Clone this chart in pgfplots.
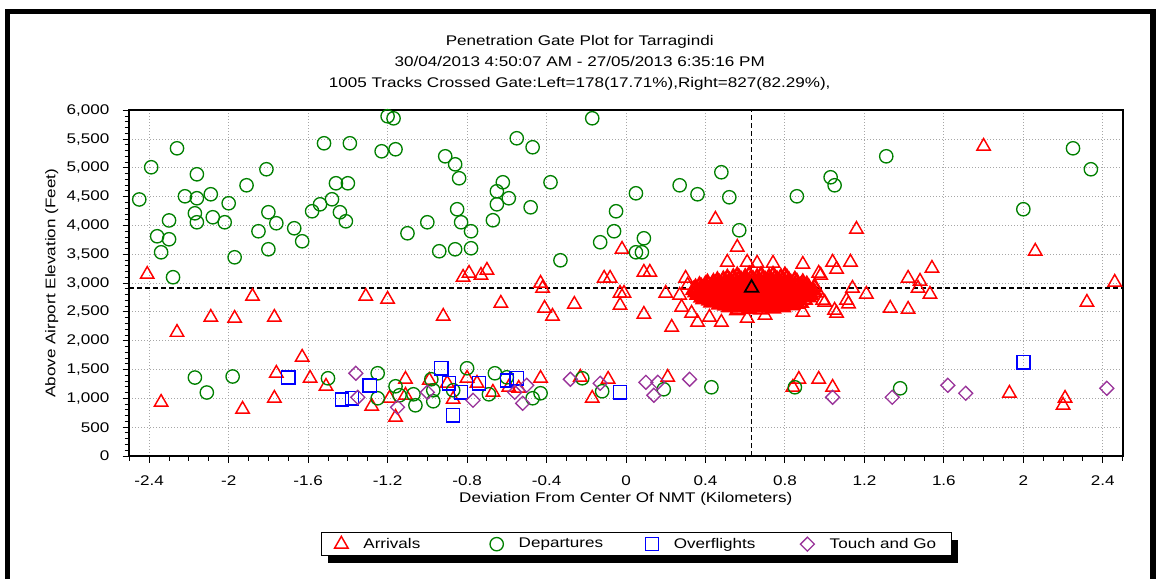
\documentclass[border=0pt]{standalone}
\usepackage{fontspec}
\setmainfont[FakeStretch=1.22]{Liberation Sans}
\usepackage{pgfplots}
\pgfplotsset{compat=1.18}
\usetikzlibrary{shadows}

\definecolor{arrred}{RGB}{255,0,0}
\definecolor{depgreen}{RGB}{0,128,0}
\definecolor{ovblue}{RGB}{0,0,255}
\definecolor{tgpurple}{RGB}{153,51,153}

% arrivals outside the dense cluster
\pgfplotstableread{
x y
-2.41 3153
-2.26 2146
-2.09 2407
-1.97 2390
-1.88 2772
-1.77 2407
-1.31 2772
-1.20 2720
-0.92 2425
-0.82 3102
-0.79 3171
-0.73 3137
-0.70 3224
-0.63 2651
-0.43 2998
-0.42 2911
-0.41 2564
-0.37 2425
-0.26 2633
-0.11 3085
-0.08 3085
-0.02 3588
-0.03 2824
-0.01 2824
-0.03 2616
0.09 3189
0.12 3189
0.09 2460
0.20 2824
0.23 2234
0.30 3085
0.45 4109
0.56 3623
0.51 3363
0.61 3363
0.66 3345
0.74 3345
0.36 2321
0.42 2408
0.48 2321
0.61 2390
0.70 2442
0.31 2963
0.27 2790
0.28 2582
0.33 2477
0.89 2495
0.89 3328
0.97 3172
0.98 3137
0.99 2703
1.00 2668
1.04 3363
1.05 2530
1.06 3241
1.06 2477
1.11 2703
1.12 2640
1.13 3363
1.14 2911
1.16 3935
1.21 2807
1.33 2564
1.42 3085
1.42 2547
1.47 2911
1.48 3033
1.53 2807
1.54 3258
1.80 5376
2.06 3554
2.32 2668
2.46 3015
-2.34 932
-1.93 811
-1.77 1002
-1.76 1436
-1.63 1714
-1.59 1349
-1.51 1210
-1.28 863
-1.19 1002
-1.16 672
-1.11 1332
-1.11 1054
-0.99 1314
-0.90 1262
-0.87 984
-0.80 1349
-0.75 1262
-0.67 1106
-0.59 1193
-0.54 1175
-0.43 1349
-0.23 1366
-0.17 1002
-0.09 1332
0.21 1366
0.84 1193
0.87 1332
0.97 1332
1.04 1193
1.93 1089
2.20 880
2.21 1002
}\arrivals

% arrivals in the dense cluster around the gate mean
\pgfplotstableread{
x y
0.56 2530
0.62 2550
0.68 2540
0.74 2560
0.52 2580
0.55 2595
0.58 2575
0.61 2590
0.64 2580
0.67 2595
0.70 2585
0.73 2575
0.76 2590
0.79 2580
0.47 2630
0.50 2610
0.53 2640
0.56 2620
0.59 2635
0.62 2615
0.65 2640
0.68 2625
0.71 2610
0.74 2640
0.77 2625
0.80 2630
0.83 2615
0.86 2640
0.43 2665
0.46 2680
0.49 2660
0.52 2675
0.55 2665
0.58 2680
0.61 2660
0.64 2675
0.67 2665
0.70 2680
0.73 2660
0.76 2675
0.79 2665
0.82 2680
0.85 2670
0.88 2660
0.39 2720
0.42 2700
0.45 2715
0.48 2705
0.51 2725
0.54 2700
0.57 2715
0.60 2705
0.63 2720
0.66 2700
0.69 2715
0.72 2710
0.75 2725
0.78 2700
0.81 2715
0.84 2705
0.87 2720
0.90 2710
0.38 2750
0.41 2765
0.44 2745
0.47 2760
0.50 2750
0.53 2765
0.56 2745
0.59 2760
0.62 2750
0.65 2765
0.68 2745
0.71 2760
0.74 2750
0.77 2765
0.80 2745
0.83 2760
0.86 2750
0.89 2765
0.92 2755
0.36 2800
0.39 2785
0.42 2805
0.45 2790
0.48 2800
0.51 2785
0.54 2810
0.57 2795
0.60 2785
0.63 2800
0.66 2790
0.69 2805
0.72 2795
0.75 2785
0.78 2800
0.81 2790
0.84 2805
0.87 2795
0.90 2785
0.93 2800
0.35 2840
0.38 2830
0.41 2850
0.44 2835
0.47 2845
0.50 2830
0.53 2850
0.56 2840
0.59 2830
0.62 2845
0.65 2835
0.68 2850
0.71 2840
0.74 2830
0.77 2845
0.80 2835
0.83 2850
0.86 2840
0.89 2830
0.92 2845
0.95 2835
0.34 2880
0.37 2870
0.40 2890
0.43 2875
0.46 2885
0.49 2870
0.52 2890
0.55 2880
0.58 2870
0.61 2885
0.64 2875
0.67 2890
0.70 2880
0.73 2870
0.76 2885
0.79 2875
0.82 2890
0.85 2880
0.88 2870
0.91 2885
0.94 2875
0.35 2920
0.38 2930
0.41 2915
0.44 2930
0.47 2920
0.50 2935
0.53 2915
0.56 2925
0.59 2935
0.62 2920
0.65 2930
0.68 2915
0.71 2925
0.74 2935
0.77 2920
0.80 2930
0.83 2915
0.86 2925
0.89 2935
0.92 2920
0.95 2930
0.37 2960
0.40 2975
0.43 2955
0.46 2970
0.49 2960
0.52 2975
0.55 2965
0.58 2955
0.61 2970
0.64 2960
0.67 2975
0.70 2965
0.73 2955
0.76 2970
0.79 2960
0.82 2975
0.85 2965
0.88 2955
0.91 2970
0.41 3005
0.44 3015
0.47 3000
0.50 3020
0.53 3005
0.56 3015
0.59 3000
0.62 3020
0.65 3005
0.68 3015
0.71 3000
0.74 3020
0.77 3005
0.80 3015
0.83 3000
0.86 3020
0.89 3010
0.46 3045
0.49 3060
0.52 3040
0.55 3055
0.58 3050
0.61 3040
0.64 3060
0.67 3045
0.70 3055
0.73 3040
0.76 3060
0.79 3050
0.82 3045
0.85 3055
0.51 3090
0.54 3100
0.57 3085
0.60 3100
0.63 3090
0.66 3100
0.69 3085
0.72 3100
0.75 3090
0.78 3100
0.81 3090
0.56 3130
0.62 3145
0.68 3135
0.74 3140
0.80 3130
}\cluster

\pgfplotstableread{
x y
-2.45 4453
-2.39 5012
-2.26 5341
-2.36 3814
-2.30 4089
-2.34 3536
-2.30 3762
-2.28 3103
-2.22 4508
-2.16 4890
-2.16 4474
-2.17 4213
-2.16 4057
-2.09 4543
-2.08 4144
-2.02 4057
-2.00 4387
-1.97 3449
-1.91 4699
-1.81 4977
-1.80 4231
-1.85 3901
-1.76 4040
-1.80 3588
-1.67 3953
-1.63 3727
-1.58 4248
-1.54 4369
-1.52 5428
-1.48 4456
-1.46 4734
-1.44 4231
-1.41 4074
-1.40 4734
-1.39 5428
-1.23 5289
-1.20 5897
-1.17 5861
-1.16 5324
-1.10 3866
-1.00 4057
-0.94 3554
-0.91 5202
-0.86 5063
-0.84 4821
-0.85 4283
-0.83 4057
-0.86 3588
-0.78 3901
-0.78 3606
-0.65 4595
-0.62 4751
-0.59 4474
-0.65 4369
-0.67 4092
-0.48 4317
-0.55 5515
-0.47 5359
-0.38 4751
-0.33 3397
-0.17 5862
-0.13 3710
-0.06 3901
-0.05 4248
0.05 4560
0.09 3779
0.05 3536
0.08 3536
0.27 4699
0.36 4543
0.48 4925
0.52 4491
0.57 3918
0.86 4508
1.03 4838
1.05 4699
1.31 5202
2.00 4283
2.25 5341
2.34 4977
-2.17 1362
-2.11 1102
-1.98 1380
-1.50 1349
-1.25 1436
-1.25 1002
-1.16 1210
-1.14 1054
-1.07 1071
-1.06 880
-0.98 1332
-0.97 1141
-0.97 950
-0.80 1523
-0.87 1141
-0.66 1436
-0.69 1071
-0.60 1366
-0.47 1002
-0.43 1089
-0.22 1349
-0.12 1124
0.19 1158
0.43 1193
0.85 1193
1.38 1175
}\departures

\pgfplotstableread{
x y
-1.70 1366
-1.43 984
-1.38 1002
-1.29 1227
-0.93 1523
-0.89 1262
-0.83 1106
-0.87 707
-0.74 1262
-0.60 1314
-0.55 1349
-0.03 1106
2.00 1627
}\overflights

\pgfplotstableread{
x y
-1.36 1436
-1.35 1019
-1.15 846
-1.00 1106
-0.77 967
-0.56 1106
-0.50 1227
-0.52 915
-0.28 1332
-0.13 1262
0.10 1279
0.16 1279
0.14 1054
0.32 1332
1.04 1019
1.34 1019
1.62 1227
1.71 1089
2.42 1175
}\touchgo

\begin{document}
\begin{tikzpicture}
\useasboundingbox (0pt,0pt) rectangle (870pt,434.25pt);
\fill[black] (3.75pt,0pt) rectangle (7.5pt,427.5pt);
\fill[black] (3.75pt,423.75pt) rectangle (867pt,427.5pt);
\fill[black] (862.5pt,0pt) rectangle (867pt,427.5pt);
\begin{axis}[
  at={(97pt,92.25pt)}, anchor=south west,
  scale only axis, width=745pt, height=259.25pt,
  xmin=-2.5, xmax=2.5, ymin=0, ymax=6000,
  xtick={-2.4,-2,-1.6,-1.2,-0.8,-0.4,0,0.4,0.8,1.2,1.6,2,2.4},
  minor xtick={-2.5,-2.3,-2.2,-2.1,-1.9,-1.8,-1.7,-1.5,-1.4,-1.3,-1.1,-1.0,-0.9,-0.7,-0.6,-0.5,-0.3,-0.2,-0.1,0.1,0.2,0.3,0.5,0.6,0.7,0.9,1.0,1.1,1.3,1.4,1.5,1.7,1.8,1.9,2.1,2.2,2.3,2.5},
  ytick={0,500,...,6000},
  minor ytick={0,100,...,6000},
  xtick pos=bottom, ytick pos=left, tick align=outside,
  major tick length=5pt, minor tick length=3.5pt,
  every tick/.style={black, line width=0.75pt},
  axis line style={black, line width=1.6pt},
  grid=major,
  major grid style={gray!70, line width=0.75pt, dash pattern=on 0.75pt off 1.5pt},
  /pgf/number format/1000 sep={,},
  /pgf/number format/assume math mode=true,
  tick label style={font=\fontsize{10.5}{12}\selectfont},
  xticklabel style={yshift=-6.5pt},
  yticklabel style={xshift=-6.5pt},
  title={Penetration Gate Plot for Tarragindi\\30/04/2013 4:50:07 AM - 27/05/2013 6:35:16 PM\\1005 Tracks Crossed Gate:Left=178(17.71\%),Right=827(82.29\%),},
  title style={at={(0.4534,1)}, anchor=south, align=center, inner sep=0pt, yshift=9pt,
    font=\fontsize{10.5}{15.75}\selectfont},
  xlabel={Deviation From Center Of NMT (Kilometers)},
  xlabel style={at={(0.4998,-0.125)}, anchor=center, font=\fontsize{10.5}{12}\selectfont},
  ylabel={Above Airport Elevation (Feet)},
  ylabel style={at={(-0.078,0.5)}, anchor=center, font=\fontsize{10.5}{12}\selectfont},
  legend style={at={(0.193,-0.2203)}, anchor=north west, draw=black, line width=0.9pt,
    fill=white, inner xsep=9.75pt, inner ysep=2pt, legend columns=4,
    nodes={inner sep=2pt}, font=\fontsize{10.5}{12}\selectfont,
    drop shadow={shadow xshift=4.5pt, shadow yshift=-5.25pt, opacity=1, fill=black},
    /tikz/every odd column/.append style={column sep=9.5pt}},
]
\addplot[only marks, mark=triangle, mark size=5.8pt, color=arrred, mark options={line width=1.1pt}] table {\arrivals};
\addplot[forget plot, only marks, mark=triangle, mark size=5.8pt, color=arrred, mark options={line width=1.8pt}] table {\cluster};
\addplot[only marks, mark=o, mark size=5pt, color=depgreen, mark options={line width=1pt}] table {\departures};
\addplot[only marks, mark=square, mark size=4.9pt, color=ovblue, mark options={line width=1.1pt}] table {\overflights};
\addplot[only marks, mark=square, mark size=3.7pt, color=tgpurple, mark options={rotate=45, line width=1pt}] table {\touchgo};
\addplot[forget plot, black, line width=1.4pt, dash pattern=on 3.75pt off 2.25pt] coordinates {(-2.5,2920) (2.5,2920)};
\addplot[forget plot, black, line width=1.4pt, dash pattern=on 3.75pt off 2.25pt] coordinates {(0.632,0) (0.632,6000)};
\addplot[forget plot, only marks, mark=triangle, mark size=5.8pt, color=black, mark options={line width=1.3pt}] coordinates {(0.632,2920)};
\legend{\makebox[93pt][l]{Arrivals}, \makebox[93pt][l]{Departures}, \makebox[93pt][l]{Overflights}, Touch and Go}
\end{axis}
\end{tikzpicture}
\end{document}
